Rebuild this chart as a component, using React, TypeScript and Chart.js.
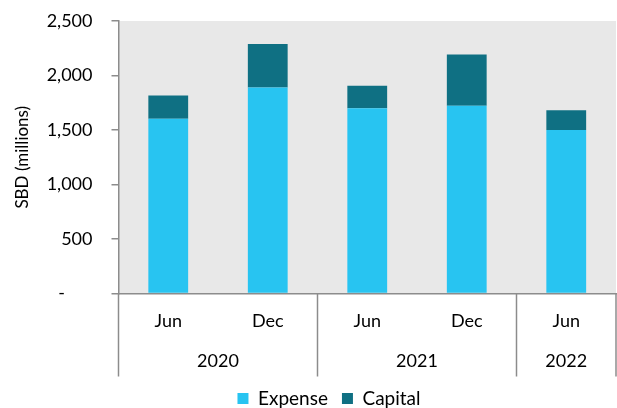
import React, { useEffect, useRef } from 'react';
import { Chart, registerables } from 'chart.js';

Chart.register(...registerables);

const months = ['Jun', 'Dec', 'Jun', 'Dec', 'Jun'];
const years = ['2020', '2020', '2021', '2021', '2022'];
const expense = [1603, 1889, 1700, 1722, 1499];
const capital = [213, 400, 207, 470, 183];
const yTicks = [0, 500, 1000, 1500, 2000, 2500];

const FONT = 'Lato';
const AXIS_GRAY = '#8c8c8c';

const groupPlugin = {
  id: 'groupAxis',
  afterLayout(chart: any) {
    const lg = chart.legend;
    if (lg) {
      lg.left += 21;
      lg.right += 21;
    }
  },
  beforeDraw(chart: any) {
    const { ctx, chartArea } = chart;
    ctx.save();
    ctx.fillStyle = '#e8e8e8';
    ctx.fillRect(chartArea.left, chartArea.top, chartArea.right - chartArea.left, chartArea.bottom - chartArea.top);
    ctx.restore();
  },
  afterDraw(chart: any) {
    const { ctx, chartArea } = chart;
    const x = chart.scales.x;
    const half = (x.getPixelForValue(1) - x.getPixelForValue(0)) / 2;
    const top = chartArea.bottom;
    const bottom = chartArea.bottom + 83;
    ctx.save();
    ctx.strokeStyle = AXIS_GRAY;
    ctx.lineWidth = 1.5;
    ctx.fillStyle = '#000';
    ctx.font = `18px ${FONT}`;
    ctx.textAlign = 'center';
    ctx.textBaseline = 'middle';
    let start = 0;
    for (let i = 1; i <= years.length; i++) {
      if (i === years.length || years[i] !== years[start]) {
        const l = x.getPixelForValue(start) - half;
        const r = x.getPixelForValue(i - 1) + half;
        ctx.beginPath();
        ctx.moveTo(l, top);
        ctx.lineTo(l, bottom);
        ctx.stroke();
        if (i === years.length) {
          ctx.beginPath();
          ctx.moveTo(r, top);
          ctx.lineTo(r, bottom);
          ctx.stroke();
        }
        ctx.fillText(years[start], (l + r) / 2, chartArea.bottom + 68);
        start = i;
      }
    }
    ctx.restore();
  },
};

export default function App() {
  const ref = useRef<HTMLCanvasElement>(null);
  useEffect(() => {
    document.body.style.margin = '0';
    const chart = new Chart(ref.current as HTMLCanvasElement, {
      type: 'bar',
      data: {
        labels: months,
        datasets: [
          { label: 'Expense', data: expense, backgroundColor: '#28c4f1', borderWidth: 0 },
          { label: 'Capital', data: capital, backgroundColor: '#0f7083', borderWidth: 0 },
        ],
      },
      options: {
        responsive: false,
        animation: false,
        layout: { padding: { top: 21, right: 1, left: 0, bottom: -10 } },
        datasets: { bar: { categoryPercentage: 1, barPercentage: 0.4 } },
        plugins: {
          legend: {
            position: 'bottom',
            labels: {
              boxWidth: 11,
              boxHeight: 11,
              padding: 14,
              color: '#000',
              font: { family: FONT, size: 19 },
            },
          },
          tooltip: { enabled: false },
        },
        scales: {
          x: {
            stacked: true,
            offset: true,
            grid: { display: false, drawTicks: false },
            border: { display: true, color: AXIS_GRAY, width: 1.5 },
            ticks: { color: '#000', padding: 17, font: { family: FONT, size: 18 }, maxRotation: 0 },
            afterFit: (s: any) => { s.height = 81.5; s.paddingLeft = 0; s.paddingRight = 0; },
          },
          y: {
            stacked: true,
            min: yTicks[0],
            max: yTicks[yTicks.length - 1],
            afterBuildTicks: (s: any) => { s.ticks = yTicks.map((v) => ({ value: v })); },
            afterFit: (s: any) => { s.width = 118.5; s.paddingTop = 0; s.paddingBottom = 0; },
            grid: { drawOnChartArea: false, drawTicks: true, tickLength: 7, color: AXIS_GRAY, lineWidth: 1.5 },
            border: { display: true, color: AXIS_GRAY, width: 1.5 },
            ticks: {
              color: '#000',
              padding: 19,
              font: { family: FONT, size: 18 },
              callback: (v: any) => (Number(v) === 0 ? '-      ' : Number(v).toLocaleString('en-US')),
            },
            title: {
              display: true,
              text: 'SBD (millions)',
              color: '#000',
              font: { family: FONT, size: 17 },
              padding: { top: 12, bottom: 0 },
            },
          },
        },
      },
      plugins: [groupPlugin],
    } as any);
    return () => chart.destroy();
  }, []);
  return <canvas ref={ref} width={617} height={408} style={{ display: 'block' }} />;
}
